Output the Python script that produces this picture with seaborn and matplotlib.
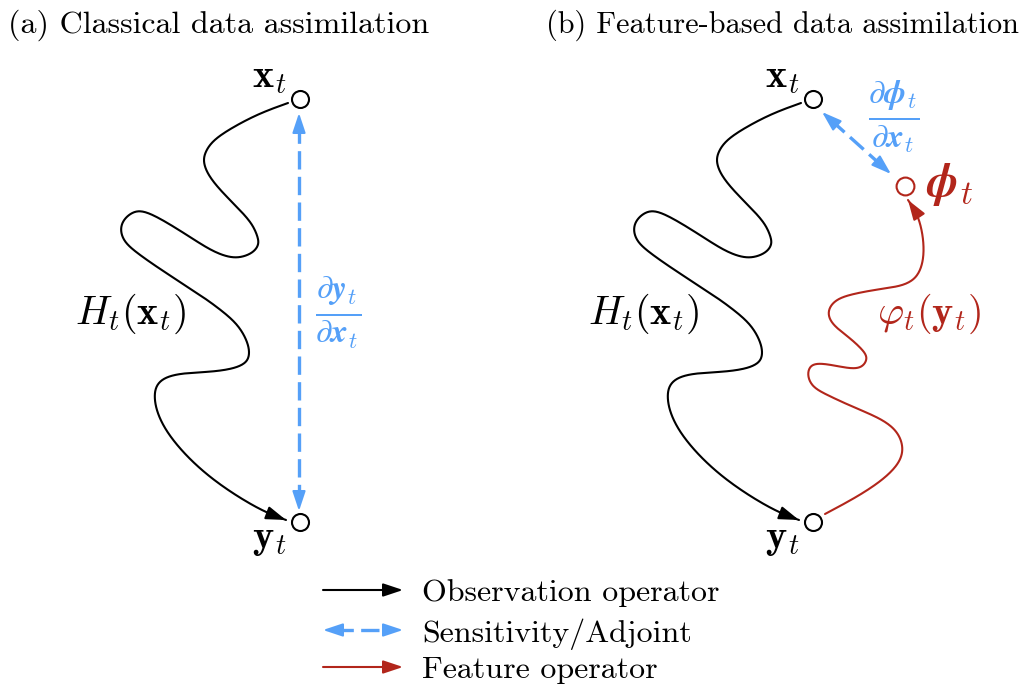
import numpy as np
import pandas as pd
import matplotlib
matplotlib.use("Agg")
import matplotlib.pyplot as plt
import seaborn as sns

sns.set_theme(style="white")
plt.rcParams["font.family"] = ["cmr10"]
plt.rcParams["mathtext.fontset"] = "cm"
plt.rcParams["axes.unicode_minus"] = False
plt.rcParams["text.color"] = "black"

BLACK = "#000000"
BLUE = "#55A0F8"
RED = "#B2261B"

# Observation operator H_t : control points of the path from x_t down to y_t (panel a)
obs_x = [288, 260, 233, 213, 205, 203, 208, 220, 237, 252, 258, 259, 253, 240, 227,
         210, 187, 163, 143, 132, 123, 120, 124, 137, 157, 180, 203, 217, 237, 247,
         250, 247, 233, 210, 183, 165, 156, 154, 157, 167, 187, 213, 243, 267, 286]
obs_y = [103, 113, 127, 140, 152, 162, 175, 190, 207, 223, 237, 245, 253, 258, 257,
         250, 235, 220, 210, 212, 220, 230, 242, 253, 267, 282, 297, 307, 323, 340,
         353, 363, 369, 372, 373, 377, 385, 397, 413, 433, 457, 480, 500, 513, 520]
panel_shift = 513

# Feature operator varphi_t : control points of the path from y_t up to phi_t (panel b)
feat_x = [825, 857, 883, 900, 904, 897, 880, 853, 827, 812, 807, 810, 820, 837, 853,
          863, 868, 863, 850, 835, 828, 829, 838, 857, 880, 903, 917, 923, 924, 922,
          917, 908]
feat_y = [514, 497, 480, 463, 447, 430, 418, 407, 395, 387, 375, 365, 363, 366, 369,
          367, 358, 350, 338, 327, 317, 307, 298, 293, 289, 286, 278, 263, 247, 230,
          213, 200]

# Nodes: x_t and y_t (panel a), phi_t (panel b)
node_x = [300, 300]
node_y = [99, 522]
phi_x, phi_y = 905, 186

# Sensitivity arrows (tip positions)
sens_a = [(299, 113), (299, 511)]
sens_b = [(822, 112), (891, 174)]

legend_labels = ["Observation operator", "Sensitivity/Adjoint", "Feature operator"]
legend_y = [590, 630, 667]
legend_x = [323, 403]

FS = 23      # plain text
MFS = 29     # math labels
FRAC = 34    # derivative fractions
PHI = 34     # phi_t node label


def smooth(xs, ys, n=16):
    """Clamped uniform cubic B-spline over the control points."""
    p = np.column_stack([xs, ys]).astype(float)
    p = np.vstack([p[0], p[0], p, p[-1], p[-1]])
    t = np.linspace(0, 1, n, endpoint=False)[:, None]
    b0 = (1 - t) ** 3 / 6
    b1 = (3 * t ** 3 - 6 * t ** 2 + 4) / 6
    b2 = (-3 * t ** 3 + 3 * t ** 2 + 3 * t + 1) / 6
    b3 = t ** 3 / 6
    out = [b0 * p[i] + b1 * p[i + 1] + b2 * p[i + 2] + b3 * p[i + 3]
           for i in range(len(p) - 3)]
    out.append(p[-1][None, :])
    return np.vstack(out)


def head(ax, tip, tail, color, lw=1.5):
    ax.annotate("", xy=tip, xytext=tail,
                arrowprops=dict(arrowstyle="-|>,head_length=0.6,head_width=0.2",
                                color=color, lw=lw, shrinkA=0, shrinkB=0,
                                mutation_scale=20))


def curve(ax, xs, ys, color, lw=1.5):
    pts = smooth(xs, ys)
    df = pd.DataFrame({"x": pts[:, 0], "y": pts[:, 1]})
    sns.lineplot(data=df, x="x", y="y", sort=False, estimator=None, color=color,
                 lw=lw, ax=ax)
    tip = pts[-1]
    d = np.hypot(*(pts - tip).T)
    j = np.where(d > 10)[0][-1]
    head(ax, tuple(tip), tuple(pts[j]), color, lw)


def dashed_double(ax, a, b, color, lw=2.4):
    a = np.array(a, float)
    b = np.array(b, float)
    u = (b - a) / np.hypot(*(b - a))
    s, e = a + u * 12, b - u * 12
    ax.plot([s[0], e[0]], [s[1], e[1]], color=color, lw=lw,
            linestyle=(0, (5.5, 2.2)), dash_capstyle="butt")
    head(ax, tuple(a), tuple(a + u * 14), color, lw=1.5)
    head(ax, tuple(b), tuple(b - u * 14), color, lw=1.5)


fig = plt.figure(figsize=(10.24, 6.87), dpi=100)
ax = fig.add_axes([0, 0, 1, 1])

for k in range(2):
    sx = [x + k * panel_shift for x in obs_x]
    curve(ax, sx, obs_y, BLACK)
    nx = [x + k * panel_shift for x in node_x]
    ax.scatter(nx, node_y, s=150, facecolor="white", edgecolor=BLACK, lw=1.5, zorder=5)
    ax.text(252 + k * panel_shift, 87, r"$\mathbf{x}_t$", fontsize=MFS,
            ha="left", va="baseline")
    ax.text(252 + k * panel_shift, 548, r"$\mathbf{y}_t$", fontsize=MFS,
            ha="left", va="baseline")
    ax.text(75 + k * panel_shift, 324, r"$H_t(\mathbf{x}_t)$", fontsize=MFS,
            ha="left", va="baseline")

curve(ax, feat_x, feat_y, RED)
ax.scatter([phi_x], [phi_y], s=165, facecolor="white", edgecolor=RED, lw=1.5, zorder=5)

dashed_double(ax, *sens_a, BLUE)
dashed_double(ax, *sens_b, BLUE)

ax.text(338, 312, r"$\frac{\partial \mathbfit{y}_t}{\partial \mathbfit{x}_t}$",
        fontsize=FRAC, color=BLUE, ha="center", va="center")
ax.text(894, 117, r"$\frac{\partial \mathbfit{\phi}_t}{\partial \mathbfit{x}_t}$",
        fontsize=FRAC, color=BLUE, ha="center", va="center")
ax.text(926, 196, r"$\mathbfit{\phi}_t$", fontsize=PHI, color=RED,
        ha="left", va="baseline")
ax.text(877, 324, r"$\varphi_t(\mathbf{y}_t)$", fontsize=MFS, color=RED,
        ha="left", va="baseline")

ax.text(8, 33, "(a) Classical data assimilation", fontsize=FS, ha="left",
        va="baseline")
ax.text(1019, 33, "(b) Feature-based data assimilation", fontsize=FS - 1.2,
        ha="right", va="baseline")

# legend
head(ax, (legend_x[1], legend_y[0]), (legend_x[0], legend_y[0]), BLACK)
dashed_double(ax, (legend_x[0], legend_y[1]), (legend_x[1], legend_y[1]), BLUE)
head(ax, (legend_x[1], legend_y[2]), (legend_x[0], legend_y[2]), RED)
for lab, y in zip(legend_labels, legend_y):
    ax.text(422, y, lab, fontsize=FS, ha="left", va="center_baseline")

ax.set_xlim(0, 1024)
ax.set_ylim(687, 0)
ax.axis("off")
fig.savefig("out.png", dpi=100)
